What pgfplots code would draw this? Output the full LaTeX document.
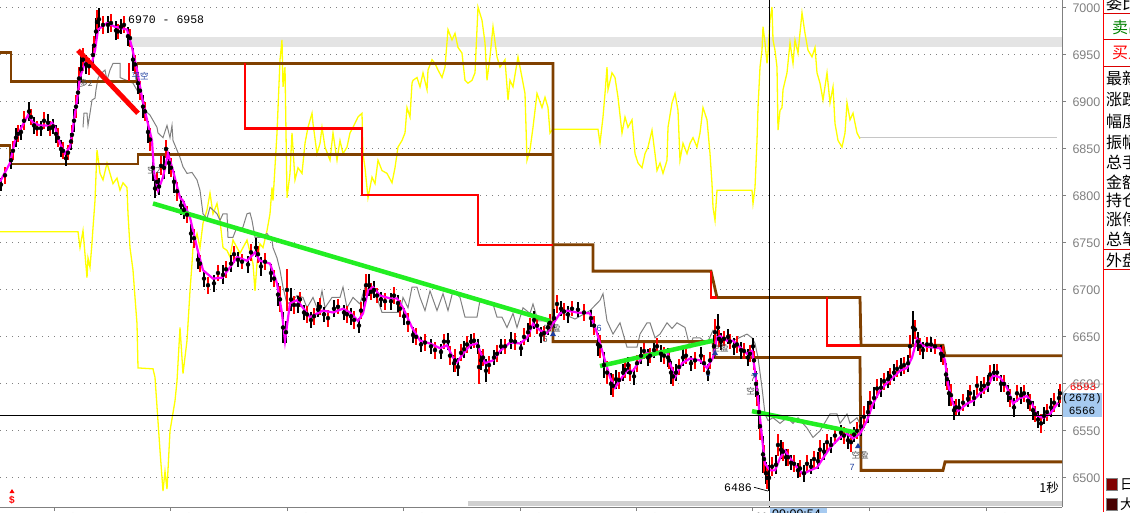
\documentclass[border=0pt]{standalone}
\usepackage{fontspec}
\setmainfont{Liberation Sans}
\newfontfamily\cjk{Noto Sans CJK SC}
\newfontfamily\mono{Liberation Mono}
\usepackage{pgfplots}
\pgfplotsset{compat=1.18}

\definecolor{brn}{HTML}{804000}
\definecolor{mag}{HTML}{FF00FF}
\definecolor{grn}{HTML}{22EE22}
\definecolor{ylw}{HTML}{FFFF00}
\definecolor{lbl}{HTML}{808080}
\definecolor{hl}{HTML}{A6CAF0}
\definecolor{band}{HTML}{E4E4E4}
\definecolor{scroll}{HTML}{D0D0D0}
\definecolor{mkb}{HTML}{2040A0}
\definecolor{sq1}{HTML}{800000}
\definecolor{sq2}{HTML}{480000}

\pgfplotsset{
  pbar/.style={only marks, mark=none,
    error bars/y dir=both, error bars/y explicit, error bars/error mark=none,
    error bars/error bar style={draw=#1, line width=2.2pt}},
}

\begin{document}
\begin{tikzpicture}
\useasboundingbox (0,0) rectangle (1130pt,512pt);
\clip (0,0) rectangle (1130pt,512pt);
\begin{axis}[
  at={(0pt,5pt)}, anchor=south west,
  scale only axis, width=1062pt, height=507pt,
  xmin=0, xmax=1062, ymin=6469, ymax=7008.5,
  axis x line*=bottom, axis y line*=right,
  axis line style={lbl, line width=1pt},
  tick style={lbl, line width=1pt},
  tick align=outside, major tick length=4pt,
  ytick={6500,6550,...,7000},
  /pgf/number format/1000 sep={},
  /pgf/number format/assume math mode=true,
  yticklabel style={font=\fontsize{12.5}{14}\selectfont, text=lbl, xshift=3pt},
  xtick={54,170,287,403,520,636,752,869,986},
  xticklabels={11/19,11/21,11/22,11/23,11/24,11/25,11,11/26,11/29},
  xticklabel style={font=\fontsize{12.5}{14}\selectfont, text=lbl, anchor=north west, inner sep=0pt, xshift=3pt, yshift=-2pt},
  ymajorgrids, grid style={lbl, line width=1pt, dash pattern=on 1pt off 5pt},
]
% highlighted price band
\fill[band] (axis cs:128,6958) rectangle (axis cs:1062,6969);
\node[anchor=west, inner sep=0pt, font=\mono\fontsize{11.5}{12}\selectfont] at (axis cs:128,6987) {6970 - 6958};

% second instrument (yellow)
\addplot[ylw, line width=1.3pt] coordinates {
(0,6762)(78,6762)(80,6745)(83,6763)(87,6713)(88,6734)(90,6724)(92,6750)(93,6766)(95,6795)
(97,6849)(98,6841)(100,6824)(103,6817)(107,6835)(110,6824)(113,6813)(117,6819)(120,6806)(123,6814)
(127,6809)(128,6781)(130,6745)(133,6721)(135,6692)(137,6664)(138,6617)(153,6616)(155,6607)(160,6529)
(163,6486)(165,6507)(167,6488)(170,6550)(175,6582)(177,6603)(180,6660)(183,6611)(187,6646)(190,6699)
(192,6728)(193,6745)(197,6760)(200,6745)(203,6771)(207,6785)(210,6803)(213,6781)(217,6792)(220,6774)
(223,6745)(227,6742)(230,6735)(233,6753)(240,6739)(247,6753)(253,6728)(255,6699)(257,6728)(260,6749)
(263,6745)(267,6763)(270,6781)(272,6809)(273,6795)(277,6867)(280,6945)(282,6966)(283,6916)(285,6937)
(287,6798)(290,6824)(292,6867)(295,6817)(298,6830)(302,6824)(305,6856)(308,6873)(312,6888)(313,6877)
(317,6845)(320,6856)(322,6873)(325,6852)(330,6838)(333,6867)(337,6838)(340,6859)(343,6845)(347,6852)
(350,6867)(353,6873)(358,6884)(362,6888)(363,6845)(365,6830)(368,6798)(372,6820)(375,6813)(378,6838)
(382,6827)(387,6824)(392,6814)(395,6830)(398,6852)(402,6859)(405,6867)(407,6894)(410,6884)(412,6920)
(413,6923)(417,6926)(420,6916)(423,6931)(427,6913)(428,6934)(432,6945)(435,6941)(438,6934)(442,6926)
(445,6937)(448,6977)(452,6966)(455,6973)(458,6958)(462,6952)(465,6923)(468,6920)(472,6923)(475,6931)
(478,7001)(482,6987)(485,6963)(487,6923)(490,6948)(493,6980)(497,6948)(500,6937)(505,6945)(508,6902)
(510,6923)(513,6916)(518,6948)(522,6926)(525,6909)(527,6838)(530,6849)(533,6873)(537,6909)(542,6894)
(545,6905)(548,6894)(550,6867)(552,6870)(553,6871)(598,6871)(600,6856)(603,6884)(605,6909)(607,6937)
(608,6913)(612,6931)(615,6926)(618,6905)(622,6867)(625,6884)(628,6873)(632,6881)(635,6845)(638,6835)
(642,6830)(645,6845)(648,6852)(652,6870)(655,6845)(657,6827)(660,6835)(663,6824)(667,6838)(668,6873)
(672,6899)(675,6909)(678,6891)(680,6838)(683,6856)(687,6845)(690,6856)(693,6862)(697,6852)(700,6867)
(703,6894)(707,6881)(710,6845)(712,6813)(713,6788)(715,6774)(717,6806)(752,6806)(753,6792)(755,6809)
(757,6859)(758,6894)(760,6937)(762,6955)(763,6980)(765,6963)(767,6941)(768,6952)(770,6987)(772,7001)
(773,6966)(775,6955)(777,6937)(778,6870)(780,6891)(782,6894)(783,6913)(787,6931)(790,6963)(793,6941)
(795,6966)(798,6952)(802,6995)(805,6973)(808,6955)(812,6948)(815,6958)(817,6931)(820,6920)(823,6902)
(827,6931)(830,6899)(833,6916)(835,6877)(838,6859)(842,6852)(845,6867)(847,6899)(850,6881)(853,6888)
(857,6867)(860,6861)
};
\addplot[gray!45, line width=1pt] coordinates {(860,6862)(1057,6862)};

% reference line (gray)
\addplot[lbl, line width=1pt] coordinates {
(83,6873)(84,6888)(87,6888)(88,6875)(90,6888)(92,6902)(95,6904)(96,6913)(98,6925)(100,6929)
(105,6934)(107,6923)(110,6934)(113,6941)(120,6941)(120,6926)(133,6920)(140,6907)(145,6891)(150,6886)
(157,6873)(158,6867)(163,6862)(167,6875)(170,6862)(172,6875)(173,6859)(180,6841)(183,6831)(187,6824)
(192,6825)(197,6817)(200,6806)(203,6781)(207,6776)(210,6788)(217,6781)(220,6774)(223,6781)(227,6781)
(228,6756)(233,6756)(237,6767)(240,6763)(243,6767)(247,6781)(250,6782)(252,6774)(255,6756)(260,6756)
(267,6760)(272,6753)(273,6745)(277,6734)(280,6721)(283,6703)(287,6685)(293,6689)(297,6694)(303,6692)
(307,6681)(313,6692)(318,6678)(322,6699)(325,6681)(332,6692)(340,6692)(343,6703)(347,6681)(353,6692)
(360,6685)(365,6703)(370,6699)(377,6692)(382,6676)(400,6676)(403,6692)(408,6681)(412,6703)(417,6703)
(420,6692)(425,6678)(430,6699)(437,6678)(443,6696)(448,6678)(453,6699)(460,6692)(465,6671)(477,6671)
(480,6689)(487,6685)(493,6685)(497,6671)(502,6671)(507,6660)(513,6675)(517,6660)(523,6681)(530,6675)
(533,6685)(538,6667)(547,6667)(550,6657)(560,6676)(575,6669)(590,6678)(600,6689)(603,6696)(607,6667)
(613,6653)(620,6665)(627,6639)(637,6639)(640,6653)(647,6665)(650,6665)(655,6649)(660,6653)(667,6665)
(672,6659)(677,6665)(685,6660)(690,6639)(693,6649)(700,6649)(707,6643)(713,6657)(720,6646)(733,6646)
(747,6653)(752,6649)(755,6643)(758,6628)(762,6596)(765,6568)(768,6561)(773,6564)(780,6558)(787,6564)
(793,6558)(798,6564)(807,6553)(813,6543)(820,6550)(830,6568)(837,6568)(840,6558)(847,6568)(850,6558)
(857,6564)(862,6553)
};

% support / resistance steps
\addplot[brn, line width=2.8pt] coordinates {(0,6953)(11,6953)(11,6922)(137,6922)(137,6941)};
\addplot[brn, line width=2.8pt] coordinates {(0,6854)(10,6854)(10,6834)(138,6834)(138,6844)(553,6844)};
\addplot[brn, line width=2.8pt] coordinates {(137,6941)(553,6941)(553,6645)(713,6645)(715,6628)(860,6628)(861,6508)(943,6508)(945,6517)(1062,6517)};
\addplot[brn, line width=2.8pt] coordinates {(553,6748)(593,6748)(593,6720)(711,6720)(717,6692)(860,6692)(861,6641)(943,6641)(945,6630)(1062,6630)};
\addplot[red, line width=2.5pt] coordinates {(245,6941)(245,6872)(362,6872)(362,6801)(478,6801)(478,6748)(553,6748)};
\addplot[red, line width=2.5pt] coordinates {(711,6720)(711,6692)(717,6692)};
\addplot[red, line width=2.5pt] coordinates {(827,6692)(827,6641)(860,6641)};
\addplot[red, line width=2.5pt] coordinates {(129,6941)(129,6922)};

% 1-second bars (black)
\addplot[pbar=black] coordinates {
(1,6812)+-(0,7)(11,6838)+-(0,9)(16,6862)+-(0,10)(21,6868)+-(0,8)(29,6890)+-(0,10)(34,6875)+-(0,9)
(41,6872)+-(0,8)(48,6878)+-(0,9)(53,6874)+-(0,8)(56,6866)+-(0,10)(61,6850)+-(0,9)(66,6840)+-(0,8)
(71,6858)+-(0,9)(74,6880)+-(0,12)(78,6910)+-(0,12)(81,6935)+-(0,14)(86,6940)+-(0,10)(93,6950)+-(0,9)
(96,6975)+-(0,14)(99,6988)+-(0,12)(108,6982)+-(0,9)(116,6976)+-(0,10)(121,6980)+-(0,8)(128,6970)+-(0,10)
(133,6945)+-(0,12)(138,6920)+-(0,12)(143,6895)+-(0,12)(148,6868)+-(0,12)(153,6830)+-(0,14)(155,6808)+-(0,10)
(159,6810)+-(0,9)(164,6830)+-(0,12)(169,6835)+-(0,12)(174,6815)+-(0,12)(181,6790)+-(0,10)(184,6785)+-(0,10)
(191,6760)+-(0,10)(198,6732)+-(0,10)(204,6712)+-(0,9)(214,6707)+-(0,9)(223,6716)+-(0,10)(231,6728)+-(0,9)
(238,6732)+-(0,8)(248,6727)+-(0,9)(256,6745)+-(0,10)(261,6725)+-(0,10)(271,6718)+-(0,10)(278,6695)+-(0,12)
(283,6660)+-(0,16)(286,6655)+-(0,12)(291,6690)+-(0,12)(298,6684)+-(0,9)(304,6676)+-(0,8)(311,6668)+-(0,9)
(318,6679)+-(0,8)(324,6674)+-(0,8)(334,6680)+-(0,9)(344,6676)+-(0,8)(351,6672)+-(0,9)(359,6662)+-(0,8)
(364,6690)+-(0,10)(369,6705)+-(0,12)(374,6700)+-(0,9)(381,6690)+-(0,8)(391,6688)+-(0,9)(398,6686)+-(0,9)
(404,6672)+-(0,9)(413,6652)+-(0,9)(421,6642)+-(0,8)(431,6640)+-(0,8)(441,6634)+-(0,8)(448,6645)+-(0,9)
(454,6622)+-(0,9)(458,6618)+-(0,10)(464,6637)+-(0,9)(471,6645)+-(0,8)(478,6640)+-(0,8)(481,6625)+-(0,10)
(486,6614)+-(0,12)(494,6628)+-(0,8)(501,6640)+-(0,8)(511,6646)+-(0,9)(521,6638)+-(0,8)(528,6655)+-(0,10)
(534,6668)+-(0,10)(541,6652)+-(0,9)(548,6660)+-(0,8)(554,6670)+-(0,10)(561,6680)+-(0,8)(568,6674)+-(0,9)
(578,6679)+-(0,8)(591,6670)+-(0,9)(598,6642)+-(0,12)(604,6620)+-(0,14)(611,6600)+-(0,12)(616,6605)+-(0,10)
(623,6612)+-(0,9)(628,6620)+-(0,9)(634,6608)+-(0,9)(641,6630)+-(0,9)(648,6628)+-(0,9)(654,6636)+-(0,8)
(661,6632)+-(0,9)(668,6628)+-(0,10)(671,6612)+-(0,12)(676,6612)+-(0,9)(683,6628)+-(0,9)(691,6622)+-(0,8)
(701,6630)+-(0,9)(708,6612)+-(0,9)(714,6640)+-(0,12)(718,6660)+-(0,14)(721,6645)+-(0,9)(728,6650)+-(0,8)
(734,6640)+-(0,9)(741,6636)+-(0,9)(748,6628)+-(0,9)(753,6640)+-(0,9)(756,6600)+-(0,14)(759,6570)+-(0,18)
(763,6525)+-(0,20)(766,6505)+-(0,12)(769,6500)+-(0,14)(776,6514)+-(0,10)(781,6530)+-(0,10)(786,6522)+-(0,9)
(791,6516)+-(0,8)(798,6508)+-(0,8)(804,6505)+-(0,9)(811,6512)+-(0,8)(818,6518)+-(0,9)(824,6528)+-(0,9)
(831,6535)+-(0,9)(841,6548)+-(0,8)(848,6540)+-(0,9)(854,6546)+-(0,8)(861,6555)+-(0,10)(868,6570)+-(0,12)
(874,6585)+-(0,12)(881,6596)+-(0,10)(888,6605)+-(0,9)(894,6612)+-(0,9)(901,6618)+-(0,10)(908,6622)+-(0,9)
(913,6660)+-(0,18)(918,6645)+-(0,10)(923,6636)+-(0,9)(931,6642)+-(0,8)(941,6632)+-(0,9)(946,6610)+-(0,12)
(949,6590)+-(0,14)(954,6572)+-(0,10)(959,6575)+-(0,9)(968,6584)+-(0,9)(974,6585)+-(0,8)(981,6594)+-(0,9)
(988,6600)+-(0,9)(994,6612)+-(0,9)(1001,6600)+-(0,9)(1008,6590)+-(0,9)(1014,6575)+-(0,10)(1021,6588)+-(0,9)
(1028,6582)+-(0,9)(1033,6572)+-(0,10)(1038,6562)+-(0,9)(1044,6566)+-(0,9)(1051,6575)+-(0,10)(1059,6585)+-(0,10)
};
% 1-second bars (red)
\addplot[pbar=red] coordinates {
(5,6822)+-(0,9)(13,6848)+-(0,10)(18,6866)+-(0,9)(24,6880)+-(0,10)(31,6884)+-(0,9)(37,6872)+-(0,8)
(44,6880)+-(0,9)(50,6872)+-(0,8)(58,6862)+-(0,10)(63,6848)+-(0,9)(68,6846)+-(0,8)(72,6865)+-(0,10)
(76,6895)+-(0,12)(79,6925)+-(0,12)(83,6945)+-(0,12)(89,6938)+-(0,9)(94,6960)+-(0,10)(97,6985)+-(0,13)
(103,6982)+-(0,10)(111,6984)+-(0,10)(118,6975)+-(0,8)(124,6982)+-(0,9)(130,6968)+-(0,10)(135,6940)+-(0,10)
(140,6912)+-(0,10)(145,6890)+-(0,10)(150,6860)+-(0,12)(157,6815)+-(0,10)(161,6832)+-(0,10)(166,6850)+-(0,10)
(171,6830)+-(0,10)(177,6805)+-(0,10)(187,6780)+-(0,9)(194,6755)+-(0,10)(200,6728)+-(0,9)(208,6705)+-(0,9)
(218,6718)+-(0,9)(226,6722)+-(0,9)(234,6738)+-(0,9)(242,6730)+-(0,8)(251,6740)+-(0,9)(258,6738)+-(0,9)
(265,6730)+-(0,9)(274,6712)+-(0,9)(280,6690)+-(0,14)(287,6700)+-(0,22)(294,6684)+-(0,10)(300,6690)+-(0,8)
(307,6674)+-(0,9)(314,6672)+-(0,9)(320,6682)+-(0,9)(328,6670)+-(0,9)(338,6682)+-(0,8)(347,6674)+-(0,9)
(354,6668)+-(0,10)(361,6678)+-(0,9)(366,6705)+-(0,12)(371,6698)+-(0,9)(377,6694)+-(0,8)(385,6688)+-(0,9)
(394,6694)+-(0,9)(400,6680)+-(0,9)(408,6665)+-(0,10)(416,6650)+-(0,9)(425,6644)+-(0,9)(435,6636)+-(0,9)
(444,6645)+-(0,8)(450,6630)+-(0,10)(455,6625)+-(0,12)(461,6633)+-(0,9)(467,6642)+-(0,9)(474,6646)+-(0,8)
(479,6618)+-(0,18)(483,6628)+-(0,9)(489,6620)+-(0,10)(497,6632)+-(0,9)(505,6640)+-(0,8)(515,6645)+-(0,9)
(524,6650)+-(0,9)(530,6660)+-(0,10)(537,6662)+-(0,9)(544,6654)+-(0,8)(550,6665)+-(0,9)(557,6685)+-(0,10)
(564,6677)+-(0,9)(572,6680)+-(0,8)(584,6676)+-(0,9)(594,6662)+-(0,10)(600,6640)+-(0,12)(607,6612)+-(0,12)
(613,6598)+-(0,12)(619,6604)+-(0,9)(625,6615)+-(0,9)(630,6612)+-(0,9)(637,6622)+-(0,9)(644,6635)+-(0,9)
(650,6630)+-(0,8)(657,6640)+-(0,9)(664,6630)+-(0,9)(669,6625)+-(0,9)(673,6608)+-(0,10)(679,6618)+-(0,9)
(686,6630)+-(0,9)(695,6625)+-(0,9)(704,6622)+-(0,9)(710,6625)+-(0,9)(715,6655)+-(0,14)(719,6648)+-(0,9)
(724,6648)+-(0,8)(730,6645)+-(0,8)(737,6642)+-(0,9)(744,6635)+-(0,9)(750,6632)+-(0,9)(754,6625)+-(0,10)
(757,6590)+-(0,14)(760,6555)+-(0,15)(764,6520)+-(0,15)(767,6500)+-(0,12)(772,6512)+-(0,10)(778,6535)+-(0,12)
(783,6528)+-(0,10)(788,6522)+-(0,9)(794,6515)+-(0,9)(800,6510)+-(0,9)(807,6515)+-(0,9)(814,6520)+-(0,9)
(820,6530)+-(0,10)(827,6538)+-(0,9)(835,6545)+-(0,9)(844,6545)+-(0,9)(851,6538)+-(0,10)(857,6550)+-(0,9)
(864,6565)+-(0,12)(870,6580)+-(0,12)(877,6595)+-(0,10)(884,6603)+-(0,9)(890,6608)+-(0,9)(897,6616)+-(0,9)
(904,6620)+-(0,9)(910,6640)+-(0,12)(915,6658)+-(0,10)(920,6640)+-(0,9)(927,6642)+-(0,8)(935,6640)+-(0,8)
(943,6630)+-(0,10)(947,6605)+-(0,12)(951,6588)+-(0,12)(956,6575)+-(0,9)(963,6580)+-(0,9)(970,6590)+-(0,9)
(977,6598)+-(0,10)(984,6598)+-(0,9)(990,6610)+-(0,10)(997,6612)+-(0,9)(1004,6600)+-(0,9)(1010,6585)+-(0,10)
(1017,6590)+-(0,9)(1024,6590)+-(0,9)(1030,6580)+-(0,9)(1035,6568)+-(0,9)(1041,6558)+-(0,10)(1047,6570)+-(0,9)
(1054,6580)+-(0,10)(1060,6590)+-(0,10)
};

% moving average (magenta)
\addplot[mag, line width=2.2pt] coordinates {
(0,6815)(10,6835)(15,6859)(20,6870)(28,6886)(33,6878)(40,6875)(47,6875)(52,6878)(55,6873)
(60,6856)(65,6845)(70,6852)(73,6873)(77,6902)(80,6926)(85,6942)(92,6942)(95,6955)(98,6977)
(107,6984)(115,6980)(120,6979)(127,6977)(132,6958)(137,6934)(142,6905)(147,6881)(152,6859)(154,6825)
(158,6806)(163,6820)(168,6845)(173,6827)(180,6798)(183,6795)(190,6777)(197,6745)(203,6721)(213,6712)
(222,6713)(230,6724)(237,6735)(247,6731)(255,6740)(260,6731)(270,6728)(277,6707)(282,6675)(285,6646)
(290,6686)(297,6689)(303,6681)(310,6671)(317,6675)(323,6678)(333,6676)(343,6680)(350,6676)(358,6667)
(363,6675)(368,6699)(373,6703)(380,6694)(390,6691)(397,6691)(403,6681)(412,6660)(420,6646)(430,6643)
(440,6638)(447,6641)(453,6628)(457,6623)(463,6632)(470,6641)(477,6643)(480,6635)(485,6622)(493,6625)
(500,6635)(510,6644)(520,6643)(527,6649)(533,6664)(540,6657)(547,6654)(553,6664)(560,6675)(567,6678)
(577,6676)(590,6675)(597,6654)(603,6632)(610,6607)(615,6596)(622,6607)(627,6614)(633,6614)(640,6625)
(647,6633)(653,6630)(660,6635)(667,6635)(670,6622)(675,6607)(682,6622)(690,6627)(700,6625)(707,6617)
(713,6628)(717,6649)(720,6651)(727,6646)(733,6646)(740,6639)(747,6632)(752,6635)(755,6614)(758,6585)
(762,6543)(765,6515)(770,6508)(775,6508)(780,6521)(785,6529)(790,6521)(797,6511)(803,6504)(810,6508)
(817,6511)(823,6521)(830,6532)(840,6543)(847,6547)(853,6542)(860,6547)(867,6561)(873,6579)(880,6593)
(887,6601)(893,6607)(900,6614)(907,6617)(912,6628)(917,6648)(922,6641)(930,6639)(940,6638)(945,6625)
(948,6600)(953,6579)(958,6571)(967,6579)(973,6582)(980,6590)(987,6596)(993,6609)(1000,6607)(1007,6596)
(1013,6579)(1020,6585)(1027,6587)(1032,6579)(1037,6566)(1043,6564)(1050,6568)(1058,6580)
};

% trend lines
\addplot[grn, line width=4.5pt] coordinates {(153,6792)(550,6667)};
\addplot[grn, line width=4.5pt] coordinates {(600,6619)(713,6646)};
\addplot[grn, line width=4.5pt] coordinates {(752,6571)(857,6548)};
\addplot[red, line width=5pt] coordinates {(78,6955)(138,6888)};

% crosshair
\addplot[black, line width=1pt] coordinates {(0,6566)(1062,6566)};
\addplot[black, line width=1pt] coordinates {(769,6469)(769,7008.5)};

% notes
\node[font=\cjk\fontsize{8.5}{9}\selectfont, text=black!70, inner sep=0pt] at (axis cs:552,6659) {空盈};
\node[font=\fontsize{9}{9}\selectfont, text=black!70, inner sep=0pt] at (axis cs:545,6647) {6};
\node[font=\cjk\fontsize{8.5}{9}\selectfont, text=black!70, inner sep=0pt] at (axis cs:720,6638) {空盈};
\node[font=\fontsize{9}{9}\selectfont, text=mkb, inner sep=0pt] at (axis cs:708,6611) {6};
\node[font=\fontsize{9}{9}\selectfont, text=mkb, inner sep=0pt] at (axis cs:599,6659) {6};
\node[font=\fontsize{9}{9}\selectfont, text=black!70, inner sep=0pt] at (axis cs:753,6606) {7};
\node[font=\cjk\fontsize{8.5}{9}\selectfont, text=black!70, inner sep=0pt] at (axis cs:753,6592) {空2};
\node[font=\cjk\fontsize{8.5}{9}\selectfont, text=black!70, inner sep=0pt] at (axis cs:860,6524) {空盈};
\node[font=\fontsize{9}{9}\selectfont, text=mkb, inner sep=0pt] at (axis cs:852,6511) {7};
\node[font=\cjk\fontsize{8.5}{9}\selectfont, text=black!70, inner sep=0pt] at (axis cs:86,6920) {多2};
\node[font=\cjk\fontsize{8.5}{9}\selectfont, text=mkb, inner sep=0pt] at (axis cs:140,6927) {平空};
\node[font=\cjk\fontsize{8.5}{9}\selectfont, text=black!70, inner sep=0pt] at (axis cs:154,6828) {空2};
\node[anchor=east, inner sep=0pt, font=\mono\fontsize{11.5}{12}\selectfont] at (axis cs:752,6490) {6486};
\draw[black, line width=0.7pt] (axis cs:754,6490) -- (axis cs:768,6486);
\node[anchor=east, inner sep=0pt, font=\cjk\fontsize{12.5}{13}\selectfont] at (axis cs:1059,6490) {1秒};
\end{axis}

% frame items outside the plot (pixel coordinates, origin top left)
\begin{scope}[x=1pt, y=-1pt, yshift=512pt]
% signal triangles
\fill[mkb] (553,331) -- (550,336) -- (556,336) -- cycle;
\fill[mkb] (715,350) -- (712,355) -- (718,355) -- cycle;
\fill[mkb] (858,443) -- (855,448) -- (861,448) -- cycle;
\fill[mkb] (755,378) -- (752,373) -- (758,373) -- cycle;
\fill[scroll] (468,501) rectangle (1062,506);
\node[text=red, font=\bfseries\fontsize{10}{10}\selectfont, inner sep=0pt] at (12,500) {\$};
\fill[red] (12,489) -- (9.5,493) -- (14.5,493) -- cycle;
\fill[hl] (770,508) rectangle (827,514);
\node[anchor=north west, inner sep=0pt, font=\fontsize{12.5}{14}\selectfont] at (772,509.5) {09:09:54};
% price tag
\node[text=red, font=\mono\fontsize{11}{11}\selectfont, inner sep=0pt] at (1083,387) {6593};
\fill[hl] (1063,393) rectangle (1102,417);
\draw[lbl!60, line width=0.7pt] (1063,393) -- (1071,384) -- (1103,384);
\node[font=\mono\fontsize{11}{11}\selectfont, inner sep=0pt] at (1082,399) {(2678)};
\node[font=\mono\fontsize{11}{11}\selectfont, inner sep=0pt] at (1082,411) {6566};
% side panel
\draw[red, line width=1.2pt] (1103.5,0) -- (1103.5,512);
\foreach \yy in {13.5,40,66.5,249.5,270}{\draw[red!85!black, line width=1pt] (1103.5,\yy) -- (1131,\yy);}
\begin{scope}[every node/.style={anchor=west, inner sep=0pt, font=\cjk\fontsize{16}{16}\selectfont}]
\node at (1106,3) {委比};
\node[text=green!50!black] at (1112,27) {卖出};
\node[text=red] at (1112,53) {买入};
\node at (1106,78) {最新};
\node at (1106,99) {涨跌};
\node at (1106,121) {幅度};
\node at (1106,142) {振幅};
\node at (1106,162) {总手};
\node at (1106,182) {金额};
\node at (1106,200) {持仓};
\node at (1106,219) {涨停};
\node at (1106,239) {总笔};
\node at (1106,260) {外盘};
\end{scope}
\filldraw[fill=sq1, draw=lbl] (1106.5,478.5) rectangle (1117.5,490.5);
\filldraw[fill=sq2, draw=lbl] (1106.5,498.5) rectangle (1117.5,510.5);
\node[anchor=west, inner sep=0pt, font=\cjk\fontsize{14}{14}\selectfont] at (1120,484) {日线};
\node[anchor=west, inner sep=0pt, font=\cjk\fontsize{14}{14}\selectfont] at (1120,504) {大单};
\end{scope}
\end{tikzpicture}
\end{document}
